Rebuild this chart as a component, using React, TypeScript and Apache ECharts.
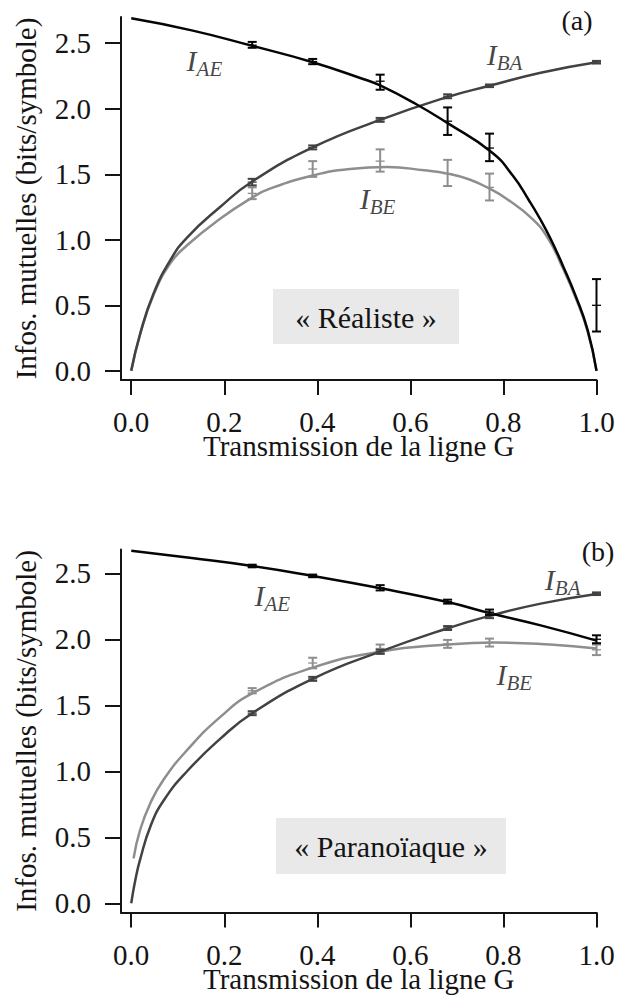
import React, { useEffect, useRef } from "react";
import * as echarts from "echarts";

// ---------- tick labels ----------
const xTickValues = [0, 0.2, 0.4, 0.6, 0.8, 1.0];
const yTickValues = [0, 0.5, 1.0, 1.5, 2.0, 2.5];

// ---------- measured transmissions ----------
const xMeasured = [0.26, 0.39, 0.535, 0.68, 0.77, 1.0];

// ---------- (a) « Réaliste » : measured points [value, low, high] ----------
const aIAE = [2.485, 2.36, 2.21, 1.905, 1.7, 0.5];
const aIAELow = [2.465, 2.34, 2.145, 1.8, 1.6, 0.3];
const aIAEHigh = [2.51, 2.38, 2.26, 2.01, 1.81, 0.7];

const aIBA = [1.44, 1.705, 1.915, 2.095, 2.175, 2.355];
const aIBALow = [1.415, 1.69, 1.9, 2.08, 2.165, 2.345];
const aIBAHigh = [1.465, 1.72, 1.93, 2.11, 2.185, 2.365];

const aIBE = [1.354, 1.54, 1.6, 1.505, 1.4];
const aIBELow = [1.31, 1.48, 1.52, 1.41, 1.3];
const aIBEHigh = [1.4, 1.6, 1.69, 1.61, 1.505];

// ---------- (b) « Paranoïaque » : measured points ----------
const bIAE = [2.555, 2.48, 2.39, 2.285, 2.205, 2.0];
const bIAELow = [2.545, 2.47, 2.37, 2.27, 2.185, 1.97];
const bIAEHigh = [2.565, 2.49, 2.41, 2.3, 2.225, 2.03];

const bIBA = [1.44, 1.7, 1.905, 2.085, 2.18, 2.345];
const bIBALow = [1.425, 1.685, 1.89, 2.07, 2.16, 2.335];
const bIBAHigh = [1.455, 1.715, 1.92, 2.1, 2.2, 2.355];

const bIBE = [1.61, 1.82, 1.93, 1.965, 1.975, 1.92];
const bIBELow = [1.59, 1.78, 1.89, 1.935, 1.945, 1.88];
const bIBEHigh = [1.63, 1.86, 1.96, 1.995, 2.005, 1.96];

// ---------- fitted curves ----------
const aCurveIAE = [
  [0, 2.69], [0.13, 2.598], [0.26, 2.48], [0.39, 2.355], [0.5, 2.225],
  [0.535, 2.178], [0.61, 2.04], [0.68, 1.89], [0.774, 1.67], [0.82, 1.49], [0.855, 1.3],
  [0.877, 1.17], [0.901, 1.01], [0.928, 0.8], [0.956, 0.564], [0.981, 0.31], [1.0, 0.0],
];
const aCurveIBA = [
  [0, 0], [0.0193, 0.285], [0.048, 0.59], [0.084, 0.844], [0.12, 1.017], [0.191, 1.25],
  [0.26, 1.445], [0.39, 1.705], [0.535, 1.915], [0.68, 2.09], [0.77, 2.175], [0.88, 2.275], [1.0, 2.355],
];
const aCurveIBE = [
  [0, 0], [0.0193, 0.28], [0.048, 0.58], [0.084, 0.82], [0.12, 0.958], [0.191, 1.16],
  [0.262, 1.326], [0.298, 1.39], [0.39, 1.49], [0.47, 1.54], [0.55, 1.555], [0.63, 1.53],
  [0.68, 1.505], [0.727, 1.46], [0.77, 1.39], [0.808, 1.31], [0.862, 1.16], [0.896, 1.01],
  [0.923, 0.82], [0.956, 0.55], [0.981, 0.3], [1.0, 0.0],
];

const bCurveIAE = [
  [0, 2.67], [0.13, 2.615], [0.26, 2.555], [0.39, 2.48], [0.536, 2.386], [0.682, 2.28],
  [0.772, 2.197], [0.88, 2.105], [1.0, 1.99],
];
const bCurveIBA = [
  [0, 0], [0.009, 0.18], [0.019, 0.33], [0.041, 0.58], [0.07, 0.78], [0.12, 1.0],
  [0.191, 1.245], [0.26, 1.44], [0.39, 1.7], [0.535, 1.906], [0.68, 2.083], [0.77, 2.177],
  [0.88, 2.27], [1.0, 2.343],
];
const bCurveIBE = [
  [0.005, 0.34], [0.019, 0.555], [0.041, 0.758], [0.069, 0.934], [0.12, 1.16], [0.191, 1.41],
  [0.26, 1.59], [0.39, 1.785], [0.535, 1.906], [0.68, 1.96], [0.78, 1.975], [0.9, 1.96], [1.0, 1.93],
];

// ---------- curve name annotations [x, y, subscript] ----------
const aLabels = [[0.12, 2.366, "AE"], [0.765, 2.41, "BA"], [0.492, 1.311, "BE"]];
const bLabels = [[0.266, 2.328, "AE"], [0.89, 2.449, "BA"], [0.786, 1.73, "BE"]];

// ---------- texts ----------
const xName = "Transmission de la ligne G";
const yName = "Infos. mutuelles (bits/symbole)";
const panelTags = ["(a)", "(b)"];
const regimeNames = ["« Réaliste »", "« Paranoïaque »"];

// ---------- styles ----------
const serif = "Liberation Serif";
const ink = "#141414";
const cBlack = "#050505";
const cDark = "#424242";
const cLight = "#8e8e8e";

function zip(xs: number[], v: number[], lo: number[], hi: number[]) {
  return v.map((val, i) => [xs[i], val, lo[i], hi[i]]);
}

const errRender = (color: string) => (params: any, api: any) => {
  const x = api.value(0);
  const pV = api.coord([x, api.value(1)]);
  const pL = api.coord([x, api.value(2)]);
  const pH = api.coord([x, api.value(3)]);
  const hw = 4.5;
  const st = { stroke: color, lineWidth: 2 };
  return {
    type: "group",
    children: [
      { type: "line", shape: { x1: pH[0], y1: pH[1], x2: pL[0], y2: pL[1] }, style: st },
      { type: "line", shape: { x1: pH[0] - hw, y1: pH[1], x2: pH[0] + hw, y2: pH[1] }, style: st },
      { type: "line", shape: { x1: pL[0] - hw, y1: pL[1], x2: pL[0] + hw, y2: pL[1] }, style: st },
      { type: "line", shape: { x1: pV[0] - hw, y1: pV[1], x2: pV[0] + hw, y2: pV[1] }, style: { stroke: color, lineWidth: 1.3 } },
    ],
  };
};

function errSeries(gi: number, data: number[][], color: string) {
  return {
    type: "custom",
    xAxisIndex: gi,
    yAxisIndex: gi,
    data,
    encode: { x: 0, y: [1, 2, 3] },
    renderItem: errRender(color),
    z: 6,
    silent: true,
  };
}

function curveSeries(gi: number, data: number[][], color: string, z: number) {
  return {
    type: "line",
    xAxisIndex: gi,
    yAxisIndex: gi,
    data,
    showSymbol: false,
    symbol: "none",
    smooth: 0.5,
    lineStyle: { color, width: 2.5 },
    z,
    silent: true,
  };
}

function labelSeries(gi: number, data: any[]) {
  return {
    type: "scatter",
    xAxisIndex: gi,
    yAxisIndex: gi,
    data,
    encode: { x: 0, y: 1 },
    symbolSize: 1,
    itemStyle: { color: "rgba(0,0,0,0)" },
    silent: true,
    z: 8,
    label: {
      show: true,
      position: [0, 0],
      align: "left",
      verticalAlign: "middle",
      formatter: (p: any) => `{i|I}{s|${p.value[2]}}`,
      rich: {
        i: { fontSize: 30, fontStyle: "italic", fontFamily: serif, color: ink, lineHeight: 38 },
        s: { fontSize: 21, fontStyle: "italic", fontFamily: serif, color: ink, lineHeight: 21, verticalAlign: "bottom" },
      },
    },
  };
}

const axisFont = { fontSize: 29, fontFamily: serif, color: ink, lineHeight: 22 };

function xAxisCfg(gi: number) {
  return {
    gridIndex: gi,
    type: "value",
    min: -0.022,
    max: 1.0,
    axisLine: { show: true, onZero: false, lineStyle: { color: ink, width: 2 } },
    axisTick: { show: true, length: 15, inside: false, customValues: xTickValues, lineStyle: { color: ink, width: 2 } },
    axisLabel: { show: true, customValues: xTickValues, margin: 31, formatter: (v: number) => v.toFixed(1), ...axisFont },
    splitLine: { show: false },
    name: xName,
    nameLocation: "middle",
    nameGap: 55,
    nameMoveOverlap: false,
    nameTextStyle: { ...axisFont },
  };
}

function yAxisCfg(gi: number, max: number) {
  return {
    gridIndex: gi,
    type: "value",
    min: -0.07,
    max,
    axisLine: { show: true, onZero: false, lineStyle: { color: ink, width: 2 } },
    axisTick: { show: true, length: 16, inside: false, customValues: yTickValues, lineStyle: { color: ink, width: 2 } },
    axisLabel: { show: true, customValues: yTickValues, margin: 30, formatter: (v: number) => v.toFixed(1), ...axisFont },
    splitLine: { show: false },
    name: yName,
    nameLocation: "middle",
    nameGap: 84,
    nameMoveOverlap: false,
    nameTextStyle: { ...axisFont },
  };
}

export default function App() {
  const ref = useRef<HTMLDivElement>(null);

  useEffect(() => {
    if (!ref.current) return;
    const chart = echarts.init(ref.current, undefined, { renderer: "svg" });
    const gridBase = { left: 121, width: 475.5, height: 363, containLabel: false, outerBoundsMode: "none" };
    const option: any = {
      animation: false,
      backgroundColor: "#ffffff",
      grid: [
        { ...gridBase, top: 17 },
        { ...gridBase, top: 549.5 },
      ],
      xAxis: [xAxisCfg(0), xAxisCfg(1)],
      yAxis: [yAxisCfg(0, 2.7), yAxisCfg(1, 2.68)],
      graphic: [
        { type: "rect", shape: { x: 273, y: 289, width: 186, height: 55 }, style: { fill: "#e9e9e9" } },
        { type: "text", x: 366, y: 317, style: { text: regimeNames[0], fontSize: 30, fontFamily: serif, fill: ink, align: "center", verticalAlign: "middle" } },
        { type: "rect", shape: { x: 276, y: 818, width: 230, height: 56 }, style: { fill: "#e9e9e9" } },
        { type: "text", x: 391, y: 846, style: { text: regimeNames[1], fontSize: 30, fontFamily: serif, fill: ink, align: "center", verticalAlign: "middle" } },
        { type: "text", x: 577, y: 20, style: { text: panelTags[0], fontSize: 28, fontFamily: serif, fill: ink, align: "center", verticalAlign: "middle" } },
        { type: "text", x: 598, y: 551, style: { text: panelTags[1], fontSize: 28, fontFamily: serif, fill: ink, align: "center", verticalAlign: "middle" } },
      ],
      series: [
        curveSeries(0, aCurveIBE, cLight, 2),
        curveSeries(0, aCurveIBA, cDark, 3),
        curveSeries(0, aCurveIAE, cBlack, 4),
        errSeries(0, zip(xMeasured, aIBE, aIBELow, aIBEHigh), cLight),
        errSeries(0, zip(xMeasured, aIBA, aIBALow, aIBAHigh), cDark),
        errSeries(0, zip(xMeasured, aIAE, aIAELow, aIAEHigh), cBlack),
        labelSeries(0, aLabels),

        curveSeries(1, bCurveIBE, cLight, 2),
        curveSeries(1, bCurveIBA, cDark, 3),
        curveSeries(1, bCurveIAE, cBlack, 4),
        errSeries(1, zip(xMeasured, bIBE, bIBELow, bIBEHigh), cLight),
        errSeries(1, zip(xMeasured, bIBA, bIBALow, bIBAHigh), cDark),
        errSeries(1, zip(xMeasured, bIAE, bIAELow, bIAEHigh), cBlack),
        labelSeries(1, bLabels),
      ],
    };
    chart.setOption(option);
    return () => chart.dispose();
  }, []);

  return (
    <div
      ref={ref}
      style={{ position: "absolute", left: 0, top: 0, width: 617, height: 1005, background: "#fff" }}
    />
  );
}
